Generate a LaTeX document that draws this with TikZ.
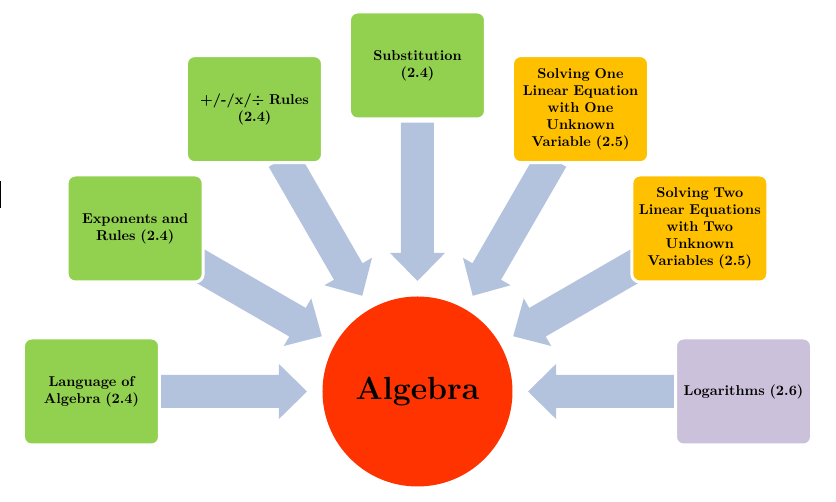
\documentclass[tikz,border=0pt]{standalone}
\usepackage{tikz}
\usetikzlibrary{calc}
\definecolor{boxgreen}{HTML}{92D050}
\definecolor{boxorange}{HTML}{FFC000}
\definecolor{boxlilac}{HTML}{CCC1DA}
\definecolor{arrowblue}{HTML}{B3C3DE}
\definecolor{corered}{HTML}{FF3300}
\pgfdeclarelayer{background}
\pgfsetlayers{background,main}
\tikzset{%
	topic/.style    = {draw=white, line width=2.25pt, rectangle, rounded corners=6pt, minimum width=102pt, minimum height=80.25pt, text width=97pt, align=center, inner sep=0pt, font=\fontsize{10.7}{12.75}\selectfont\bfseries},
	basic/.style    = {topic, fill=boxgreen},
	linear/.style   = {topic, fill=boxorange},
	logtopic/.style = {topic, fill=boxlilac},
	core/.style     = {circle, fill=corered, minimum size=142.5pt, inner sep=0pt, font=\fontsize{24}{28}\selectfont\bfseries},
	arrowfill/.style= {fill=arrowblue},
}
% block arrow from a topic box towards the centre circle
\newcommand{\blockarrow}[1]{%
	\coordinate (s) at ($(alg)!0.825!(#1)$);
	\coordinate (h) at ($(alg)!0.425!(#1)$);
	\coordinate (t) at ($(alg)!0.339!(#1)$);
	\fill[arrowfill] ($(s)!12.375pt!90:(t)$) -- ($(h)!12.375pt!-90:(s)$) -- ($(h)!20.625pt!-90:(s)$) -- (t)
		-- ($(h)!20.625pt!90:(s)$) -- ($(h)!12.375pt!90:(s)$) -- ($(s)!12.375pt!-90:(t)$) -- cycle;}
\begin{document}
\begin{tikzpicture}[x=0.75pt,y=0.75pt]
	\useasboundingbox (-417.5,-110.5) rectangle (418.5,391.5);
	\node[core] (alg) at (0,0) {Algebra};
	\node[basic] (lang) at (180:326) {Language of\\Algebra (2.4)};
	\node[basic] (expo) at (150:326) {Exponents and\\Rules (2.4)};
	\node[basic] (rules) at (120:326) {+/-/x/÷ Rules\\(2.4)};
	\node[basic] (subst) at (90:326) {Substitution\\(2.4)};
	\node[linear] (solone) at (60:326) {Solving One\\Linear Equation\\with One\\Unknown\\Variable (2.5)};
	\node[linear] (soltwo) at (30:326) {Solving Two\\Linear Equations\\with Two\\Unknown\\Variables (2.5)};
	\node[logtopic] (logs) at (0:326) {Logarithms (2.6)};
	\begin{pgfonlayer}{background}
		\foreach \topic in {lang,expo,rules,subst,solone,soltwo,logs}
			{\blockarrow{\topic}}
	\end{pgfonlayer}
	% mark at the left edge
	\draw[line width=1.1pt] (-417,210.5) -- (-417,183.5);
\end{tikzpicture}
\end{document}
